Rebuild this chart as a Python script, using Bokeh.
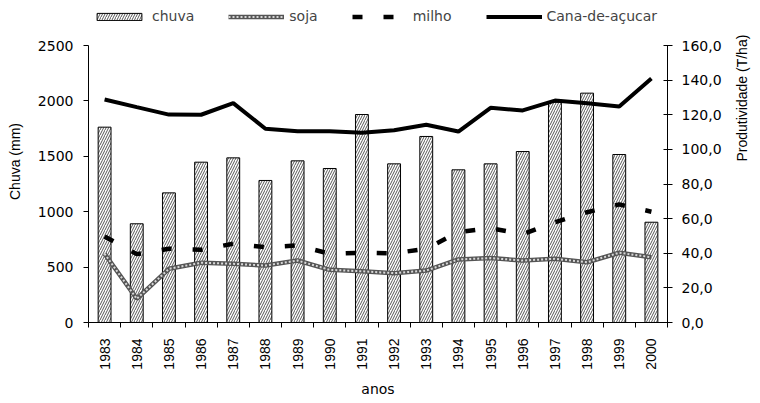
import numpy as np
from bokeh.plotting import figure
from bokeh.models import Range1d, LinearAxis, FixedTicker, Legend, LegendItem
from bokeh.embed import file_html
from bokeh.resources import INLINE

# Annual rainfall and crop yields
anos = [1983, 1984, 1985, 1986, 1987, 1988, 1989, 1990, 1991,
        1992, 1993, 1994, 1995, 1996, 1997, 1998, 1999, 2000]
chuva = [1763, 891, 1170, 1447, 1486, 1282, 1459, 1390, 1877,
         1432, 1679, 1378, 1432, 1543, 1988, 2070, 1516, 905]
soja = [39.7, 13.7, 31.0, 34.5, 33.9, 32.9, 35.8, 30.4, 29.6,
        28.5, 30.0, 36.4, 37.2, 35.8, 36.8, 34.8, 40.3, 37.7]
milho = [49.7, 39.5, 42.6, 42.0, 45.5, 43.5, 44.5, 39.7, 40.3,
         40.0, 42.6, 52.2, 54.5, 51.0, 57.9, 63.7, 68.2, 64.0]
cana = [128.8, 124.4, 120.1, 120.0, 126.7, 111.9, 110.5, 110.5, 109.6,
        111.0, 114.2, 110.3, 124.0, 122.5, 128.2, 126.7, 124.8, 140.9]

chuva_ticks = [0, 500, 1000, 1500, 2000, 2500]
prod_ticks = [0, 20, 40, 60, 80, 100, 120, 140, 160]

WIDE = "DejaVu Sans"        # horizontal texts
NARROW = "Liberation Sans"  # rotated texts
FS = "14px"

# The frame reaches the top of the canvas so the legend can sit above the
# axes; the axes themselves are bounded to their tick range.
FRAME_H = 322      # frame height in px (canvas top to x axis)
AXIS_H = 277       # px used by the 0..max tick range
chuva_max = chuva_ticks[-1]
prod_max = prod_ticks[-1]

xs = list(range(1, len(anos) + 1))

p = figure(width=760, height=403, output_backend="svg", toolbar_location=None,
           x_range=Range1d(0.5, len(anos) + 0.5),
           y_range=Range1d(0, chuva_max * FRAME_H / AXIS_H),
           min_border_left=88, min_border_right=88, min_border_top=0,
           min_border_bottom=81)
p.extra_y_ranges = {"prod": Range1d(0, prod_max * FRAME_H / AXIS_H)}
p.outline_line_color = None
p.grid.visible = False
p.background_fill_color = "white"
p.border_fill_color = "white"

# rainfall bars (hatched)
bars = p.vbar(x=xs, top=chuva, width=0.4, fill_color="white",
              line_color="black", line_width=1,
              hatch_pattern="/", hatch_color="#444444",
              hatch_scale=5, hatch_weight=0.9)

# yield lines on the secondary axis
soja_base = p.line(xs, soja, y_range_name="prod", line_color="#555555",
                   line_width=4.5)
soja_top = p.line(xs, soja, y_range_name="prod", line_color="#d8d8d8",
                  line_width=2, line_dash="2 2")
milho_r = p.line(xs, milho, y_range_name="prod", line_color="black",
                 line_width=4.5, line_dash="10 21")
cana_r = p.line(xs, cana, y_range_name="prod", line_color="black",
                line_width=4)

# x axis: year labels centred, ticks between categories
xa = p.xaxis[0]
xa.ticker = FixedTicker(ticks=xs, minor_ticks=[i + 0.5 for i in range(len(anos) + 1)])
xa.major_label_overrides = {x: str(a) for x, a in zip(xs, anos)}
xa.major_label_orientation = np.pi / 2
xa.major_tick_out = 0
xa.major_tick_in = 0
xa.minor_tick_out = 5
xa.minor_tick_in = 0
xa.major_label_standoff = 11
xa.axis_label = "anos"
xa.axis_label_standoff = 8
xa.major_label_text_font = NARROW
xa.axis_label_text_font = WIDE

# left axis
ya = p.yaxis[0]
ya.ticker = FixedTicker(ticks=chuva_ticks)
ya.bounds = (0, chuva_max)
ya.major_label_overrides = {t: str(t) for t in chuva_ticks}
ya.major_tick_out = 5
ya.major_tick_in = 0
ya.minor_tick_out = 0
ya.minor_tick_in = 0
ya.major_label_standoff = 10
ya.axis_label = "Chuva (mm)"
ya.axis_label_standoff = 12
ya.major_label_text_font = WIDE
ya.axis_label_text_font = NARROW

# right axis
ra = LinearAxis(y_range_name="prod", ticker=FixedTicker(ticks=prod_ticks),
                axis_label="Produtividade (T/ha)", bounds=(0, prod_max))
ra.major_label_overrides = {t: f"{t},0" for t in prod_ticks}
ra.major_tick_out = 5
ra.major_tick_in = 4
ra.minor_tick_out = 0
ra.minor_tick_in = 0
ra.major_label_standoff = 9
ra.axis_label_standoff = 17
ra.axis_label_orientation = np.pi / 2
ra.major_label_text_font = WIDE
ra.axis_label_text_font = NARROW
p.add_layout(ra, "right")

for ax in [xa, ya, ra]:
    ax.axis_line_color = "black"
    ax.major_tick_line_color = "black"
    ax.minor_tick_line_color = "black"
    ax.major_label_text_font_size = FS
    ax.major_label_text_color = "black"
    ax.axis_label_text_font_size = FS
    ax.axis_label_text_font_style = "normal"
    ax.axis_label_text_color = "black"

legend = Legend(items=[
    LegendItem(label="chuva", renderers=[bars]),
    LegendItem(label="soja", renderers=[soja_base, soja_top]),
    LegendItem(label="milho", renderers=[milho_r]),
    LegendItem(label="Cana-de-açucar", renderers=[cana_r]),
], orientation="horizontal", location=(3, 298))
legend.padding = 0
legend.margin = 0
legend.spacing = 34
legend.glyph_width = 56
legend.glyph_height = 9
legend.label_standoff = 5
legend.label_text_font = WIDE
legend.label_text_font_size = FS
legend.border_line_alpha = 0
legend.background_fill_alpha = 0
p.add_layout(legend, "center")

open("out.html", "w").write(file_html(p, INLINE))
